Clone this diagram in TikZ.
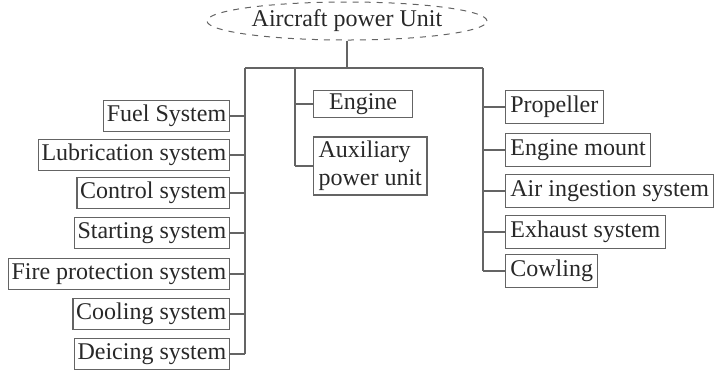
\documentclass[tikz,border=0pt]{standalone}
\usepackage{fontspec}
\setmainfont{Liberation Serif}
\usepackage{tikz}
\usetikzlibrary{shapes,positioning,calc}
\definecolor{boxline}{RGB}{100,100,100}
\definecolor{inkgray}{RGB}{40,40,40}

\begin{document}
\begin{tikzpicture}[x=0.5pt,y=-0.5pt,font=\fontsize{12}{14}\selectfont,text=inkgray,
  sysbox/.style={draw=boxline,line width=0.6pt,inner xsep=1.6pt,inner ysep=0pt,minimum height=15.8pt},
  link/.style={draw=boxline,line width=0.6pt}]
  \useasboundingbox (0,0) rectangle (714,372);
  \node[draw=boxline,dashed,ellipse,line width=0.5pt,minimum width=140pt,minimum height=19pt,inner sep=0pt] (apu) at (347,21) {Aircraft power Unit};
  \coordinate (top) at (347,68);
  \coordinate (ltrunk) at (245,68);
  \coordinate (mtrunk) at (295,68);
  \coordinate (rtrunk) at (483,68);
  \draw[link] (apu.south) -- (top);
  \draw[link] (ltrunk) -- (rtrunk);
  % left column
  \foreach \y/\name/\txt in {116/fuel/Fuel System,155/lube/Lubrication system,193/ctrl/Control system,
    233/start/Starting system,274/fire/Fire protection system,314/cool/Cooling system,354/deice/Deicing system}{
    \node[sysbox,anchor=east] (\name) at (230,\y) {\txt};
    \draw[link] (\name.east) -- (\name.east -| ltrunk);
  }
  \draw[link] (ltrunk) -- (deice.east -| ltrunk);
  % middle column
  \node[sysbox,anchor=west,minimum width=49.5pt,minimum height=13.5pt,align=left] (engine) at (313,104) {Engine};
  \node[sysbox,anchor=west,minimum height=29pt,align=left,inner ysep=1pt,inner xsep=2.5pt] (aux) at (313,166) {Auxiliary\\power unit};
  \draw[link] (engine.west) -- (engine.west -| mtrunk);
  \draw[link] (aux.west) -- (aux.west -| mtrunk);
  \draw[link] (mtrunk) -- (aux.west -| mtrunk);
  % right column
  \foreach \y/\name/\txt in {107/prop/Propeller,150/mount/Engine mount,191/air/Air ingestion system,
    232/exh/Exhaust system,271/cowl/Cowling}{
    \node[sysbox,anchor=west,minimum height=16.5pt,inner xsep=2.4pt] (\name) at (505,\y) {\txt};
    \draw[link] (\name.west) -- (\name.west -| rtrunk);
  }
  \draw[link] (rtrunk) -- (cowl.west -| rtrunk);
\end{tikzpicture}
\end{document}
